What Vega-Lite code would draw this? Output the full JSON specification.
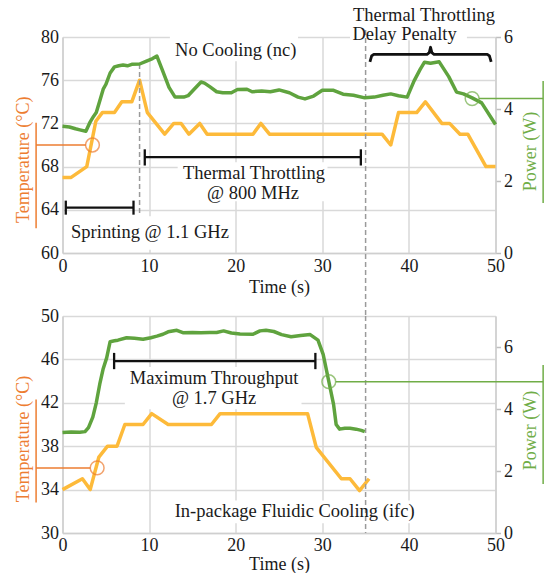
{
  "$schema": "https://vega.github.io/schema/vega-lite/v6.json",
  "background": "white",
  "padding": {"left": 14.5, "top": 6, "right": 0, "bottom": 0},
  "config": {
    "font": "Liberation Serif",
    "view": {"stroke": null},
    "axis": {
      "labelFont": "Liberation Serif", "labelFontSize": 18, "labelColor": "#1a1a1a",
      "titleFont": "Liberation Serif", "titleFontSize": 18, "titleFontWeight": "normal",
      "gridColor": "#d9d9d9", "gridWidth": 1.5, "domainColor": "#cfcfcf", "domainWidth": 1.5,
      "tickColor": "#bfbfbf", "tickWidth": 1.5
    },
    "text": {"font": "Liberation Serif"}
  },
  "datasets": {
    "topTemp": [
      {"t":0,"v":67},{"t":1,"v":67},{"t":2.8,"v":68},{"t":3.85,"v":72.2},{"t":4.6,"v":73},{"t":6.0,"v":73},{"t":6.85,"v":74},{"t":8.0,"v":74},{"t":8.9,"v":76},{"t":9.8,"v":73},{"t":11.8,"v":71},{"t":12.85,"v":72},{"t":13.7,"v":72},{"t":14.6,"v":71},{"t":15.85,"v":72},{"t":16.7,"v":71},{"t":22.0,"v":71},{"t":22.9,"v":72},{"t":23.9,"v":71},{"t":36.9,"v":71},{"t":37.9,"v":70},{"t":38.8,"v":73},{"t":40.9,"v":73},{"t":41.9,"v":74},{"t":43.8,"v":72},{"t":44.7,"v":72},{"t":45.9,"v":71},{"t":46.8,"v":71},{"t":48.9,"v":68},{"t":50,"v":68}
    ],
    "topPower": [
      {"t":0,"v":3.52},{"t":0.8,"v":3.5},{"t":1.5,"v":3.45},{"t":2.0,"v":3.42},{"t":2.7,"v":3.38},{"t":3.15,"v":3.62},{"t":3.6,"v":3.8},{"t":3.9,"v":3.9},{"t":4.3,"v":4.22},{"t":4.7,"v":4.55},{"t":5.0,"v":4.68},{"t":5.5,"v":5.0},{"t":6.0,"v":5.17},{"t":6.5,"v":5.2},{"t":7.0,"v":5.22},{"t":7.5,"v":5.2},{"t":8.0,"v":5.24},{"t":8.9,"v":5.25},{"t":9.7,"v":5.33},{"t":10.4,"v":5.4},{"t":10.9,"v":5.47},{"t":11.5,"v":5.1},{"t":12.3,"v":4.6},{"t":13.0,"v":4.33},{"t":14.0,"v":4.33},{"t":14.5,"v":4.37},{"t":15.2,"v":4.55},{"t":16.0,"v":4.75},{"t":16.4,"v":4.72},{"t":17.0,"v":4.62},{"t":17.8,"v":4.48},{"t":18.5,"v":4.45},{"t":19.5,"v":4.45},{"t":20.2,"v":4.54},{"t":21.3,"v":4.55},{"t":21.9,"v":4.48},{"t":23.0,"v":4.5},{"t":24.0,"v":4.48},{"t":25.0,"v":4.53},{"t":26.2,"v":4.45},{"t":27.2,"v":4.33},{"t":28.0,"v":4.28},{"t":29.0,"v":4.36},{"t":30.0,"v":4.52},{"t":31.3,"v":4.52},{"t":32.4,"v":4.41},{"t":33.6,"v":4.38},{"t":34.9,"v":4.31},{"t":36.0,"v":4.33},{"t":37.0,"v":4.38},{"t":37.9,"v":4.42},{"t":38.8,"v":4.37},{"t":39.8,"v":4.33},{"t":40.6,"v":4.78},{"t":41.3,"v":5.1},{"t":41.8,"v":5.3},{"t":42.5,"v":5.27},{"t":43.5,"v":5.31},{"t":44.6,"v":4.9},{"t":45.5,"v":4.47},{"t":46.3,"v":4.42},{"t":47.3,"v":4.31},{"t":48.4,"v":4.17},{"t":50,"v":3.57}
    ],
    "botTemp": [
      {"t":0,"v":34},{"t":2.3,"v":35},{"t":3.2,"v":34},{"t":4.2,"v":37},{"t":5.2,"v":38},{"t":6.3,"v":38},{"t":7.2,"v":40},{"t":9.3,"v":40},{"t":10.3,"v":41},{"t":12.2,"v":40},{"t":17.2,"v":40},{"t":18.2,"v":41},{"t":28.3,"v":41},{"t":29.3,"v":37.9},{"t":32.2,"v":35},{"t":33.2,"v":35},{"t":34.3,"v":33.9},{"t":35.4,"v":35}
    ],
    "botPower": [
      {"t":0,"v":3.24},{"t":1,"v":3.26},{"t":2,"v":3.25},{"t":2.6,"v":3.27},{"t":3.0,"v":3.4},{"t":3.5,"v":3.74},{"t":3.9,"v":4.2},{"t":4.3,"v":4.8},{"t":4.7,"v":5.3},{"t":5.1,"v":5.65},{"t":5.5,"v":6.17},{"t":6.0,"v":6.2},{"t":6.4,"v":6.22},{"t":7.4,"v":6.3},{"t":8.3,"v":6.28},{"t":9.3,"v":6.25},{"t":10.2,"v":6.3},{"t":10.9,"v":6.35},{"t":11.6,"v":6.41},{"t":12.2,"v":6.49},{"t":13.2,"v":6.54},{"t":13.9,"v":6.46},{"t":15,"v":6.47},{"t":16,"v":6.46},{"t":17,"v":6.47},{"t":17.8,"v":6.47},{"t":18.6,"v":6.52},{"t":19.5,"v":6.45},{"t":20.5,"v":6.42},{"t":22.0,"v":6.41},{"t":22.8,"v":6.52},{"t":23.5,"v":6.54},{"t":24.4,"v":6.5},{"t":25.3,"v":6.4},{"t":26.4,"v":6.33},{"t":27.5,"v":6.37},{"t":28.6,"v":6.4},{"t":29.5,"v":6.22},{"t":30.1,"v":5.76},{"t":30.7,"v":4.96},{"t":31.3,"v":4.15},{"t":31.6,"v":3.5},{"t":32.0,"v":3.35},{"t":32.6,"v":3.38},{"t":33.2,"v":3.38},{"t":33.9,"v":3.35},{"t":34.5,"v":3.31},{"t":34.9,"v":3.27}
    ],
    "boxes": [
      {"panel":"top","t":0.27,"t2":19.4,"v":63.4,"v2":60.3},
      {"panel":"top","t":13.3,"t2":30.6,"v":68.4,"v2":64.8},
      {"panel":"top","t":12.4,"t2":27.2,"v":80.3,"v2":77.75},
      {"panel":"top","t":33.2,"t2":46.7,"v":81.5,"v2":79.7},
      {"panel":"bot","t":7.2,"t2":27.6,"v":45.3,"v2":41.4},
      {"panel":"bot","t":12.4,"t2":41.3,"v":33.0,"v2":30.9}
    ],
    "brackets": [
      {"panel":"top","t":0.38,"t2":8.2,"v":64.2,"v2":64.2},
      {"panel":"top","t":0.38,"t2":0.38,"v":64.85,"v2":63.55},
      {"panel":"top","t":8.2,"t2":8.2,"v":64.85,"v2":63.55},
      {"panel":"top","t":9.5,"t2":34.45,"v":68.87,"v2":68.87},
      {"panel":"top","t":9.5,"t2":9.5,"v":69.6,"v2":68.1},
      {"panel":"top","t":34.45,"t2":34.45,"v":69.6,"v2":68.1},
      {"panel":"bot","t":5.96,"t2":29.2,"v":45.85,"v2":45.85},
      {"panel":"bot","t":5.96,"t2":5.96,"v":46.6,"v2":45.1},
      {"panel":"bot","t":29.2,"t2":29.2,"v":46.6,"v2":45.1}
    ],
    "dashed": [
      {"panel":"top","t":8.9,"t2":8.9,"v":77.5,"v2":63.6},
      {"panel":"top","t":35,"t2":35,"v":80.65,"v2":54.17},
      {"panel":"bot","t":35,"t2":35,"v":50,"v2":30}
    ],
    "tempNotes": [
      {"panel":"top","t":-3.05,"t2":2.7,"v":70,"v2":70},
      {"panel":"top","t":-3.05,"t2":-3.05,"v":72.05,"v2":62.3},
      {"panel":"bot","t":-3.05,"t2":3.22,"v":36,"v2":36},
      {"panel":"bot","t":-3.05,"t2":-3.05,"v":42.3,"v2":32.8}
    ],
    "powerNotes": [
      {"panel":"top","t":48.1,"t2":55.5,"v":4.29,"v2":4.29},
      {"panel":"top","t":55.5,"t2":55.5,"v":4.78,"v2":1.39},
      {"panel":"bot","t":31.55,"t2":55.5,"v":4.88,"v2":4.88},
      {"panel":"bot","t":55.5,"t2":55.5,"v":5.42,"v2":1.58}
    ],
    "tempCircles": [
      {"panel":"top","t":3.46,"v":70},
      {"panel":"bot","t":4.0,"v":36}
    ],
    "powerCircles": [
      {"panel":"top","t":47.3,"v":4.29},
      {"panel":"bot","t":30.75,"v":4.88}
    ],
    "brace": [
      {"i":0,"t":35.5,"v":77.7},{"i":1,"t":35.7,"v":78.25},{"i":2,"t":35.95,"v":78.4},{"i":3,"t":42.1,"v":78.4},{"i":4,"t":42.35,"v":78.55},{"i":5,"t":42.5,"v":79.05},{"i":6,"t":42.65,"v":78.55},{"i":7,"t":42.9,"v":78.4},{"i":8,"t":49.05,"v":78.4},{"i":9,"t":49.3,"v":78.25},{"i":10,"t":49.5,"v":77.7}
    ],
    "labels": [
      {"panel":"top","t":20,"v":78.8,"text":"No Cooling (nc)"},
      {"panel":"top","t":22.1,"v":67.4,"text":"Thermal Throttling"},
      {"panel":"top","t":22.0,"v":65.6,"text":"@ 800 MHz"},
      {"panel":"top","t":10.1,"v":61.9,"text":"Sprinting @ 1.1 GHz"},
      {"panel":"top","t":41.75,"v":82.0,"text":"Thermal Throttling"},
      {"panel":"top","t":39.5,"v":80.3,"text":"Delay Penalty"},
      {"panel":"bot","t":17.5,"v":44.27,"text":"Maximum Throughput"},
      {"panel":"bot","t":17.5,"v":42.45,"text":"@ 1.7 GHz"},
      {"panel":"bot","t":26.8,"v":32.0,"text":"In-package Fluidic Cooling (ifc)"}
    ]
  },
  "bounds": "flush",
  "spacing": 63,
  "vconcat": [
    {
      "width": 433,
      "height": 216,
      "resolve": {"scale": {"y": "independent"}},
      "layer": [
        {
          "layer": [
            {
              "data": {"name": "topTemp"},
              "mark": {"type": "line", "color": "#FDBA3A", "strokeWidth": 3.5, "strokeJoin": "round"},
              "encoding": {
                "x": {"field": "t", "type": "quantitative", "scale": {"domain": [0, 50], "nice": false, "zero": false},
                      "axis": {"values": [0,10,20,30,40,50], "grid": true, "ticks": false, "labelPadding": 4, "labelFlush": false, "labelOverlap": false, "title": "Time (s)", "titlePadding": 3, "titleColor": "#1a1a1a"}},
                "y": {"field": "v", "type": "quantitative", "scale": {"domain": [60, 80], "nice": false, "zero": false},
                      "axis": {"orient": "left", "values": [60,62,64,66,68,70,72,74,76,78,80], "labelExpr": "datum.value % 4 === 0 ? datum.label : ''", "grid": true, "ticks": false, "labelPadding": 4, "labelOverlap": false, "title": "Temperature (°C)", "titleColor": "#ED7D31", "titleAngle": 270, "titleBaseline": "middle", "titleX": -38.7, "titleY": 122.3}}
              }
            },
            {
              "data": {"name": "boxes"},
              "transform": [{"filter": "datum.panel === 'top'"}],
              "mark": {"type": "rect", "fill": "white"},
              "encoding": {
                "x": {"field": "t", "type": "quantitative", "scale": {"domain": [0, 50], "nice": false, "zero": false}},
                "x2": {"field": "t2"},
                "y": {"field": "v", "type": "quantitative", "scale": {"domain": [60, 80], "nice": false, "zero": false}},
                "y2": {"field": "v2"}
              }
            },
            {
              "data": {"name": "tempNotes"},
              "transform": [{"filter": "datum.panel === 'top'"}],
              "mark": {"type": "rule", "color": "#ED7D31", "strokeWidth": 1.5},
              "encoding": {
                "x": {"field": "t", "type": "quantitative", "scale": {"domain": [0, 50], "nice": false, "zero": false}},
                "x2": {"field": "t2"},
                "y": {"field": "v", "type": "quantitative", "scale": {"domain": [60, 80], "nice": false, "zero": false}},
                "y2": {"field": "v2"}
              }
            },
            {
              "data": {"name": "tempCircles"},
              "transform": [{"filter": "datum.panel === 'top'"}],
              "mark": {"type": "point", "shape": "circle", "filled": false, "color": "#ED7D31", "size": 190, "strokeWidth": 1.5},
              "encoding": {
                "x": {"field": "t", "type": "quantitative", "scale": {"domain": [0, 50], "nice": false, "zero": false}},
                "y": {"field": "v", "type": "quantitative", "scale": {"domain": [60, 80], "nice": false, "zero": false}}
              }
            },
            {
              "data": {"name": "dashed"},
              "transform": [{"filter": "datum.panel === 'top'"}],
              "mark": {"type": "rule", "color": "#9a9a9a", "strokeWidth": 1.5, "strokeDash": [5, 3]},
              "encoding": {
                "x": {"field": "t", "type": "quantitative", "scale": {"domain": [0, 50], "nice": false, "zero": false}},
                "x2": {"field": "t2"},
                "y": {"field": "v", "type": "quantitative", "scale": {"domain": [60, 80], "nice": false, "zero": false}},
                "y2": {"field": "v2"}
              }
            },
            {
              "data": {"name": "brackets"},
              "transform": [{"filter": "datum.panel === 'top'"}],
              "mark": {"type": "rule", "color": "#111111", "strokeWidth": 2.3},
              "encoding": {
                "x": {"field": "t", "type": "quantitative", "scale": {"domain": [0, 50], "nice": false, "zero": false}},
                "x2": {"field": "t2"},
                "y": {"field": "v", "type": "quantitative", "scale": {"domain": [60, 80], "nice": false, "zero": false}},
                "y2": {"field": "v2"}
              }
            },
            {
              "data": {"name": "brace"},
              "mark": {"type": "line", "color": "#111111", "strokeWidth": 2.8, "strokeJoin": "round"},
              "encoding": {
                "x": {"field": "t", "type": "quantitative", "scale": {"domain": [0, 50], "nice": false, "zero": false}},
                "y": {"field": "v", "type": "quantitative", "scale": {"domain": [60, 80], "nice": false, "zero": false}},
                "order": {"field": "i", "type": "quantitative"}
              }
            },
            {
              "data": {"name": "labels"},
              "transform": [{"filter": "datum.panel === 'top'"}],
              "mark": {"type": "text", "fontSize": 18.5, "color": "#1a1a1a", "align": "center", "baseline": "middle"},
              "encoding": {
                "x": {"field": "t", "type": "quantitative", "scale": {"domain": [0, 50], "nice": false, "zero": false}},
                "y": {"field": "v", "type": "quantitative", "scale": {"domain": [60, 80], "nice": false, "zero": false}},
                "text": {"field": "text"}
              }
            }
          ]
        },
        {
          "layer": [
            {
              "data": {"name": "topPower"},
              "mark": {"type": "line", "color": "#5FA33E", "strokeWidth": 3.5, "strokeJoin": "round"},
              "encoding": {
                "x": {"field": "t", "type": "quantitative", "scale": {"domain": [0, 50], "nice": false, "zero": false}},
                "y": {"field": "v", "type": "quantitative", "scale": {"domain": [0, 6], "nice": false, "zero": false},
                      "axis": {"orient": "right", "values": [0,1,2,3,4,5,6], "labelExpr": "datum.value % 2 === 0 ? datum.label : ''", "grid": false, "ticks": true, "tickSize": 5, "labelPadding": 3, "labelOverlap": false, "title": "Power (W)", "titleColor": "#70AD47", "titleAngle": 270, "titleBaseline": "middle", "titleX": 35.3, "titleY": 114}}
              }
            },
            {
              "data": {"name": "powerNotes"},
              "transform": [{"filter": "datum.panel === 'top'"}],
              "mark": {"type": "rule", "color": "#70AD47", "strokeWidth": 1.5},
              "encoding": {
                "x": {"field": "t", "type": "quantitative", "scale": {"domain": [0, 50], "nice": false, "zero": false}},
                "x2": {"field": "t2"},
                "y": {"field": "v", "type": "quantitative", "scale": {"domain": [0, 6], "nice": false, "zero": false}},
                "y2": {"field": "v2"}
              }
            },
            {
              "data": {"name": "powerCircles"},
              "transform": [{"filter": "datum.panel === 'top'"}],
              "mark": {"type": "point", "shape": "circle", "filled": false, "color": "#70AD47", "size": 190, "strokeWidth": 1.5},
              "encoding": {
                "x": {"field": "t", "type": "quantitative", "scale": {"domain": [0, 50], "nice": false, "zero": false}},
                "y": {"field": "v", "type": "quantitative", "scale": {"domain": [0, 6], "nice": false, "zero": false}}
              }
            }
          ]
        }
      ]
    },
    {
      "width": 433,
      "height": 217,
      "resolve": {"scale": {"y": "independent"}},
      "layer": [
        {
          "layer": [
            {
              "data": {"name": "botTemp"},
              "mark": {"type": "line", "color": "#FDBA3A", "strokeWidth": 3.5, "strokeJoin": "round"},
              "encoding": {
                "x": {"field": "t", "type": "quantitative", "scale": {"domain": [0, 50], "nice": false, "zero": false},
                      "axis": {"values": [0,10,20,30,40,50], "grid": true, "ticks": false, "labelPadding": 3, "labelFlush": false, "labelOverlap": false, "title": "Time (s)", "titlePadding": 1, "titleColor": "#1a1a1a"}},
                "y": {"field": "v", "type": "quantitative", "scale": {"domain": [30, 50], "nice": false, "zero": false},
                      "axis": {"orient": "left", "values": [30,32,34,36,38,40,42,44,46,48,50], "labelExpr": "(datum.value - 30) % 4 === 0 ? datum.label : ''", "grid": true, "ticks": false, "labelPadding": 4, "labelOverlap": false, "title": "Temperature (°C)", "titleColor": "#ED7D31", "titleAngle": 270, "titleBaseline": "middle", "titleX": -38.7, "titleY": 122.5}}
              }
            },
            {
              "data": {"name": "boxes"},
              "transform": [{"filter": "datum.panel === 'bot'"}],
              "mark": {"type": "rect", "fill": "white"},
              "encoding": {
                "x": {"field": "t", "type": "quantitative", "scale": {"domain": [0, 50], "nice": false, "zero": false}},
                "x2": {"field": "t2"},
                "y": {"field": "v", "type": "quantitative", "scale": {"domain": [30, 50], "nice": false, "zero": false}},
                "y2": {"field": "v2"}
              }
            },
            {
              "data": {"name": "tempNotes"},
              "transform": [{"filter": "datum.panel === 'bot'"}],
              "mark": {"type": "rule", "color": "#ED7D31", "strokeWidth": 1.5},
              "encoding": {
                "x": {"field": "t", "type": "quantitative", "scale": {"domain": [0, 50], "nice": false, "zero": false}},
                "x2": {"field": "t2"},
                "y": {"field": "v", "type": "quantitative", "scale": {"domain": [30, 50], "nice": false, "zero": false}},
                "y2": {"field": "v2"}
              }
            },
            {
              "data": {"name": "tempCircles"},
              "transform": [{"filter": "datum.panel === 'bot'"}],
              "mark": {"type": "point", "shape": "circle", "filled": false, "color": "#ED7D31", "size": 190, "strokeWidth": 1.5},
              "encoding": {
                "x": {"field": "t", "type": "quantitative", "scale": {"domain": [0, 50], "nice": false, "zero": false}},
                "y": {"field": "v", "type": "quantitative", "scale": {"domain": [30, 50], "nice": false, "zero": false}}
              }
            },
            {
              "data": {"name": "dashed"},
              "transform": [{"filter": "datum.panel === 'bot'"}],
              "mark": {"type": "rule", "color": "#9a9a9a", "strokeWidth": 1.5, "strokeDash": [5, 3]},
              "encoding": {
                "x": {"field": "t", "type": "quantitative", "scale": {"domain": [0, 50], "nice": false, "zero": false}},
                "x2": {"field": "t2"},
                "y": {"field": "v", "type": "quantitative", "scale": {"domain": [30, 50], "nice": false, "zero": false}},
                "y2": {"field": "v2"}
              }
            },
            {
              "data": {"name": "brackets"},
              "transform": [{"filter": "datum.panel === 'bot'"}],
              "mark": {"type": "rule", "color": "#111111", "strokeWidth": 2.3},
              "encoding": {
                "x": {"field": "t", "type": "quantitative", "scale": {"domain": [0, 50], "nice": false, "zero": false}},
                "x2": {"field": "t2"},
                "y": {"field": "v", "type": "quantitative", "scale": {"domain": [30, 50], "nice": false, "zero": false}},
                "y2": {"field": "v2"}
              }
            },
            {
              "data": {"name": "labels"},
              "transform": [{"filter": "datum.panel === 'bot'"}],
              "mark": {"type": "text", "fontSize": 18.5, "color": "#1a1a1a", "align": "center", "baseline": "middle"},
              "encoding": {
                "x": {"field": "t", "type": "quantitative", "scale": {"domain": [0, 50], "nice": false, "zero": false}},
                "y": {"field": "v", "type": "quantitative", "scale": {"domain": [30, 50], "nice": false, "zero": false}},
                "text": {"field": "text"}
              }
            }
          ]
        },
        {
          "layer": [
            {
              "data": {"name": "botPower"},
              "mark": {"type": "line", "color": "#5FA33E", "strokeWidth": 3.5, "strokeJoin": "round"},
              "encoding": {
                "x": {"field": "t", "type": "quantitative", "scale": {"domain": [0, 50], "nice": false, "zero": false}},
                "y": {"field": "v", "type": "quantitative", "scale": {"domain": [0, 7], "nice": false, "zero": false},
                      "axis": {"orient": "right", "values": [0,1,2,3,4,5,6,7], "labelExpr": "datum.value % 2 === 0 ? datum.label : ''", "grid": false, "ticks": true, "tickSize": 5, "labelPadding": 3, "labelOverlap": false, "title": "Power (W)", "titleColor": "#70AD47", "titleAngle": 270, "titleBaseline": "middle", "titleX": 35.3, "titleY": 114}}
              }
            },
            {
              "data": {"name": "powerNotes"},
              "transform": [{"filter": "datum.panel === 'bot'"}],
              "mark": {"type": "rule", "color": "#70AD47", "strokeWidth": 1.5},
              "encoding": {
                "x": {"field": "t", "type": "quantitative", "scale": {"domain": [0, 50], "nice": false, "zero": false}},
                "x2": {"field": "t2"},
                "y": {"field": "v", "type": "quantitative", "scale": {"domain": [0, 7], "nice": false, "zero": false}},
                "y2": {"field": "v2"}
              }
            },
            {
              "data": {"name": "powerCircles"},
              "transform": [{"filter": "datum.panel === 'bot'"}],
              "mark": {"type": "point", "shape": "circle", "filled": false, "color": "#70AD47", "size": 190, "strokeWidth": 1.5},
              "encoding": {
                "x": {"field": "t", "type": "quantitative", "scale": {"domain": [0, 50], "nice": false, "zero": false}},
                "y": {"field": "v", "type": "quantitative", "scale": {"domain": [0, 7], "nice": false, "zero": false}}
              }
            }
          ]
        }
      ]
    }
  ]
}
